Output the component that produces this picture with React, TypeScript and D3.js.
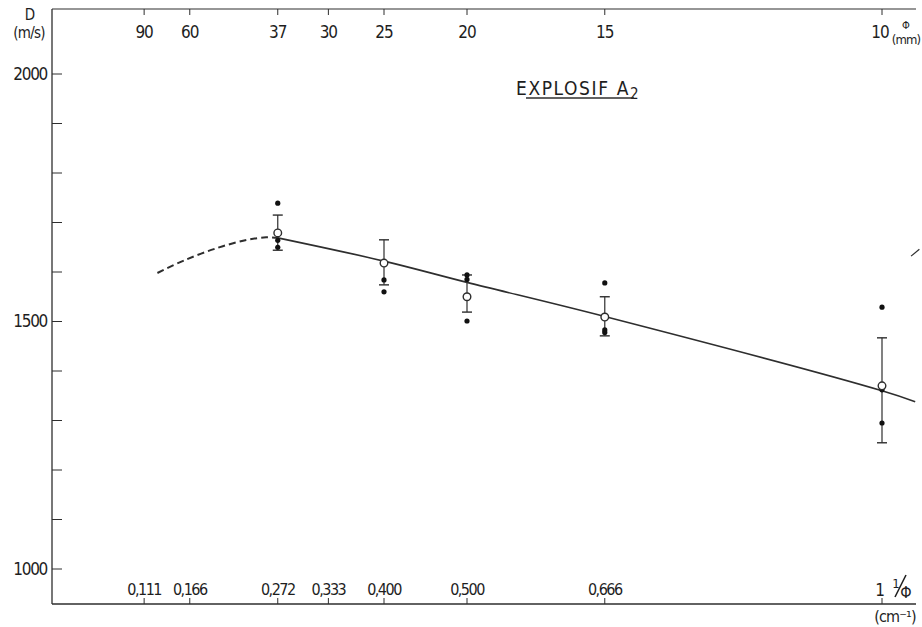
import React from "react";
import * as d3 from "d3";

const tickInv = [0.111, 0.166, 0.272, 0.333, 0.4, 0.5, 0.666, 1];
const tickInvLabels = ["0,111", "0,166", "0,272", "0,333", "0,400", "0,500", "0,666", "1"];
const tickDiamLabels = ["90", "60", "37", "30", "25", "20", "15", "10"];
const yLabelValues = [1000, 1500, 2000];
const yMinorTicks = [1000, 1100, 1200, 1300, 1400, 1500, 1600, 1700, 1800, 1900, 2000];

const invDiam = [0.272, 0.4, 0.5, 0.666, 1];
const meanD = [1679, 1618, 1550, 1509, 1370];
const errHigh = [1715, 1665, 1594, 1550, 1467];
const errLow = [1644, 1574, 1519, 1471, 1255];
const singleDots = [
  [1739, 1664, 1650],
  [1560, 1584],
  [1501, 1594, 1585],
  [1578, 1483, 1478],
  [1529, 1362, 1295],
];

const fitX = [0.272, 0.4, 0.5, 0.666, 1, 1.04];
const fitY = [1669, 1622, 1579, 1510, 1360, 1338];
const dashX = [0.127, 0.16, 0.2, 0.235, 0.258, 0.272];
const dashY = [1598, 1624, 1649, 1665, 1670, 1669];
const strayX = [1.035, 1.045];
const strayY = [1632, 1646];

const W = 922;
const H = 627;
const x = d3.scaleLinear().domain([0, 1]).range([52, 882]);
const y = d3.scaleLinear().domain([1000, 2000]).range([569, 74]);
const left = 52;
const right = 916;
const top = 9;
const bottom = 604;
const ink = "#2e2e2e";
const txt = "#1e1e1e";
const font = "'DejaVu Sans Condensed', 'Liberation Sans', sans-serif";

export default function App() {
  const line = d3
    .line<number>()
    .x((_, i) => x(fitX[i]))
    .y((d) => y(d))
    .curve(d3.curveCatmullRom.alpha(0.5));
  const dash = d3
    .line<number>()
    .x((_, i) => x(dashX[i]))
    .y((d) => y(d))
    .curve(d3.curveCatmullRom.alpha(0.5));
  const stray = d3
    .line<number>()
    .x((_, i) => x(strayX[i]))
    .y((d) => y(d));

  return (
    <svg
      width={W}
      height={H}
      style={{ position: "absolute", left: 0, top: 0, background: "#fff" }}
      fontFamily={font}
    >
      {/* frame */}
      <line x1={left} x2={left} y1={top} y2={bottom} stroke={ink} strokeWidth={1.3} />
      <line x1={left} x2={right} y1={top} y2={top} stroke={ink} strokeWidth={1.2} />
      <line x1={left} x2={right} y1={bottom} y2={bottom} stroke={ink} strokeWidth={1.3} />

      {/* y ticks */}
      {yMinorTicks.map((v) => (
        <line key={v} x1={left} x2={left + 10} y1={y(v)} y2={y(v)} stroke={ink} strokeWidth={1} />
      ))}
      {yLabelValues.map((v) => (
        <text key={v} x={47} y={y(v)} dy="0.35em" textAnchor="end" fontSize={17} fill={txt} letterSpacing={-1.3}>
          {v}
        </text>
      ))}
      <text x={30} y={20} textAnchor="middle" fontSize={15} fill={txt}>D</text>
      <text x={29} y={38} textAnchor="middle" fontSize={15} fill={txt} letterSpacing={-0.8}>(m/s)</text>

      {/* top & bottom ticks */}
      {tickInv.map((v, i) => (
        <g key={v}>
          <line x1={x(v)} x2={x(v)} y1={top} y2={top + 6} stroke={ink} strokeWidth={1} />
          <line x1={x(v)} x2={x(v)} y1={bottom - 6} y2={bottom} stroke={ink} strokeWidth={1} />
          <text
            x={i === tickInv.length - 1 ? x(v) - 2 : x(v)}
            y={32}
            dy="0.35em"
            textAnchor="middle"
            fontSize={17}
            fill={txt}
            letterSpacing={-1}
          >
            {tickDiamLabels[i]}
          </text>
          {i < tickInv.length - 1 && (
            <text x={x(v)} y={589} dy="0.35em" textAnchor="middle" fontSize={16} fill={txt} letterSpacing={-1.5}>
              {tickInvLabels[i]}
            </text>
          )}
        </g>
      ))}
      <text x={x(1) - 2} y={590} dy="0.35em" textAnchor="middle" fontSize={17} fill={txt}>1</text>
      <text x={896} y={583} dy="0.35em" textAnchor="middle" fontSize={13} fill={txt}>1</text>
      <line x1={895} x2={906} y1={597} y2={575} stroke={txt} strokeWidth={1.6} />
      <text x={906} y={592} dy="0.35em" textAnchor="middle" fontSize={16} fill={txt}>Φ</text>
      <text x={895} y={616} dy="0.35em" textAnchor="middle" fontSize={16} fill={txt} letterSpacing={-0.8}>
        (cm⁻¹)
      </text>
      <text x={906} y={25} dy="0.35em" textAnchor="middle" fontSize={11} fill={txt}>Φ</text>
      <text x={906} y={39} dy="0.35em" textAnchor="middle" fontSize={13} fill={txt} letterSpacing={-0.8}>(mm)</text>

      {/* title */}
      <text x={516} y={95} fontSize={19} fill={txt} letterSpacing={1.6}>
        EXPLOSIF A
        <tspan fontSize={15} dy={4}>2</tspan>
      </text>
      <line x1={526} x2={634} y1={98} y2={98} stroke={ink} strokeWidth={1.3} />

      {/* curves */}
      <path d={line(fitY) || ""} fill="none" stroke={ink} strokeWidth={1.6} />
      <path d={dash(dashY) || ""} fill="none" stroke={ink} strokeWidth={2} strokeDasharray="7,4" />
      <path d={stray(strayY) || ""} fill="none" stroke={ink} strokeWidth={1.2} />

      {/* data */}
      {invDiam.map((v, i) => {
        const cx = x(v);
        return (
          <g key={v}>
            <line x1={cx} x2={cx} y1={y(errHigh[i])} y2={y(errLow[i])} stroke={ink} strokeWidth={1.2} />
            <line x1={cx - 5} x2={cx + 5} y1={y(errHigh[i])} y2={y(errHigh[i])} stroke={ink} strokeWidth={1.4} />
            <line x1={cx - 5} x2={cx + 5} y1={y(errLow[i])} y2={y(errLow[i])} stroke={ink} strokeWidth={1.4} />
            {singleDots[i].map((d, j) => (
              <circle key={j} cx={cx} cy={y(d)} r={2.6} fill="#111" />
            ))}
            <circle cx={cx} cy={y(meanD[i])} r={3.8} fill="#fff" stroke={ink} strokeWidth={1.4} />
          </g>
        );
      })}
    </svg>
  );
}
